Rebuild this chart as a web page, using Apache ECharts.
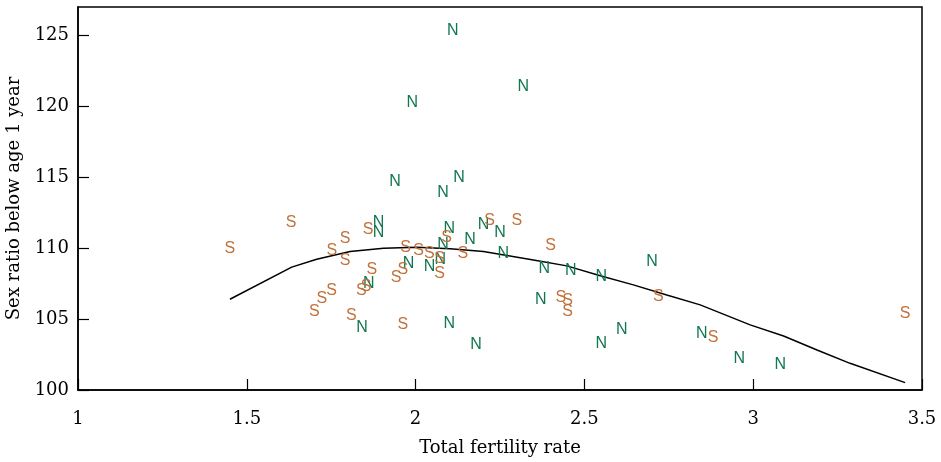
<!DOCTYPE html>
<html>
<head>
<meta charset="utf-8">
<script src="https://cdn.jsdelivr.net/npm/echarts@6/dist/echarts.min.js"></script>
<style>
  html, body { margin: 0; padding: 0; background: #fff; }
  #chart { width: 941px; height: 462px; }
</style>
</head>
<body>
<div id="chart"></div>
<script>
// N = northern states, S = southern states
const nX = [2.11, 2.319, 1.99, 1.939, 2.129, 2.081, 1.89, 1.89, 2.10, 2.201, 2.25, 2.161, 2.081, 2.26, 1.979, 2.041,
  2.073, 1.861, 2.381, 2.46, 2.55, 2.70, 2.371, 1.841, 2.10, 2.179, 2.55, 2.611, 2.848, 2.959, 3.08]
const nY = [125.36, 121.4, 120.28, 114.7, 114.94, 113.95, 111.81, 111.1, 111.41, 111.68, 111.1, 110.62, 110.23, 109.6, 108.89, 108.7,
  109.17, 107.53, 108.57, 108.42, 108.0, 109.08, 106.4, 104.38, 104.71, 103.21, 103.25, 104.23, 103.95, 102.24, 101.81]

const sX = [1.45, 1.631, 1.752, 1.791, 1.791, 1.859, 1.87, 1.97, 2.009, 2.041, 2.092, 2.071, 2.071, 2.14, 2.219, 2.30,
  2.40, 1.962, 1.942, 1.839, 1.853, 1.751, 1.722, 1.70, 1.81, 1.962, 2.43, 2.45, 2.45, 2.719, 2.881, 3.45]
const sY = [110.0, 111.79, 109.83, 110.64, 109.1, 111.34, 108.52, 110.04, 109.83, 109.65, 110.74, 109.24, 108.24, 109.62, 111.96, 111.95,
  110.2, 108.47, 107.9, 106.99, 107.27, 107.01, 106.41, 105.5, 105.22, 104.59, 106.54, 106.3, 105.53, 106.56, 103.72, 105.41]

// fitted curve
const fitX = [1.45, 1.633, 1.707, 1.806, 1.905, 2.004, 2.102, 2.201, 2.349, 2.448, 2.547, 2.645, 2.744, 2.843, 2.991, 3.09, 3.189, 3.287, 3.45]
const fitY = [106.4, 108.66, 109.22, 109.76, 110.0, 110.07, 109.95, 109.76, 109.17, 108.75, 108.05, 107.41, 106.7, 106.0, 104.59, 103.81, 102.82, 101.88, 100.52]

const xTicks = [1, 1.5, 2, 2.5, 3, 3.5]
const yTicks = [100, 105, 110, 115, 120, 125]

const pairs = (xs, ys) => xs.map((x, i) => [x, ys[i]])

const serif = 'DejaVu Serif'

// points are drawn as their letter only
const letterSeries = (name, data, letter, color) => ({
  type: 'scatter',
  name: name,
  data: data,
  symbol: 'circle',
  symbolSize: 2,
  itemStyle: { color: 'rgba(0,0,0,0)', opacity: 1 },
  label: {
    show: true,
    position: 'inside',
    formatter: letter,
    color: color,
    opacity: 1,
    textBorderWidth: 0,
    textBorderColor: 'transparent',
    fontSize: 16,
    fontFamily: 'Liberation Sans'
  },
  labelLayout: { hideOverlap: false },
  emphasis: { disabled: true },
  z: 3
})

const chart = echarts.init(document.getElementById('chart'))
const option = {
  backgroundColor: '#fff',
  animation: false,
  grid: {
    left: 78,
    right: 19,
    top: 7,
    bottom: 72,
    outerBoundsMode: 'none',
    show: true,
    borderColor: '#000',
    borderWidth: 1.5
  },
  xAxis: {
    type: 'value',
    min: xTicks[0],
    max: xTicks[xTicks.length - 1],
    interval: 0.5,
    name: 'Total fertility rate',
    nameLocation: 'middle',
    nameGap: 49,
    nameTextStyle: { color: '#000', fontSize: 18, fontFamily: serif },
    axisLine: { show: true, lineStyle: { color: '#000', width: 1.5 } },
    axisTick: { show: true, inside: true, length: 11, lineStyle: { color: '#000', width: 1.2 } },
    axisLabel: { color: '#000', fontSize: 18, fontFamily: serif, margin: 20 },
    splitLine: { show: false }
  },
  yAxis: {
    type: 'value',
    min: yTicks[0],
    max: 127,
    interval: 5,
    name: 'Sex ratio below age 1 year',
    nameLocation: 'middle',
    nameGap: 52,
    nameTextStyle: { color: '#000', fontSize: 18, fontFamily: serif },
    axisLine: { show: true, lineStyle: { color: '#000', width: 1.5 } },
    axisTick: { show: true, inside: true, length: 11, lineStyle: { color: '#000', width: 1.2 } },
    axisLabel: {
      color: '#000', fontSize: 18, fontFamily: serif, margin: 9,
      showMaxLabel: false,
      formatter: v => (yTicks.indexOf(v) >= 0 ? String(v) : '')
    },
    splitLine: { show: false }
  },
  series: [
    {
      type: 'line',
      name: 'fit',
      data: pairs(fitX, fitY),
      showSymbol: false,
      smooth: false,
      lineStyle: { color: '#000', width: 1.5 },
      z: 2
    },
    letterSeries('N', pairs(nX, nY), 'N', '#11774f'),
    letterSeries('S', pairs(sX, sY), 'S', '#c2703a')
  ]
}
chart.setOption(option)
</script>
</body>
</html>
